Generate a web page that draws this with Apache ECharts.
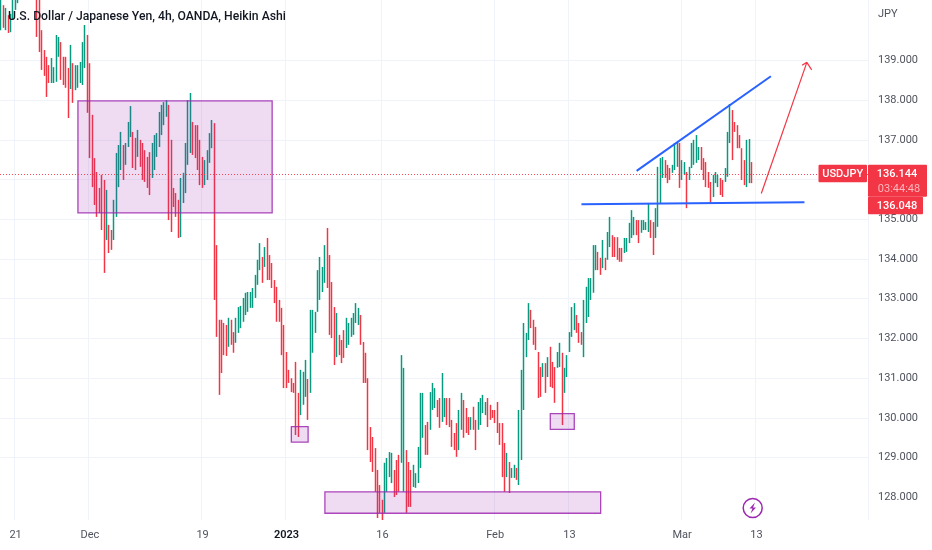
<!DOCTYPE html>
<html><head><meta charset="utf-8">
<style>html,body{margin:0;padding:0;background:#fff}#c{width:932px;height:550px}</style>
<script src="https://cdn.jsdelivr.net/npm/echarts@6/dist/echarts.min.js"></script>
</head><body><div id="c"></div>
<script>
const titleText = 'U.S. Dollar / Japanese Yen, 4h, OANDA, Heikin Ashi';
const yLabelTicks = [128,129,130,131,132,133,134,135,136,137,138,139];
const yGridTicks = [128,129,130,131,132,133,134,135,136,137,138,139,140];
const dateTicks = {6:'21',37:'Dec',84:'19',119:'2023',159:'16',206:'Feb',237:'13',284:'Mar',315:'13'};
const slotCount = 362;
const opens = [
139.86,140.34,139.86,140.09,139.81,140.12,140.37,140.54,141.15,141.45,
141.85,142.05,141.95,141.75,141.45,140.6,140.47,139.71,139.21,139.04,
138.83,138.53,138.53,138.56,139.19,139.41,139.04,139.04,138.76,138.38,
138.88,138.35,138.41,138.53,138.48,138.91,139.59,138.88,137.58,136.49,
136.14,135.74,136.07,135.94,134.58,134.81,134.68,134.58,135.16,135.91,
136.34,136.82,136.47,136.92,137.17,137.15,137.0,136.67,136.95,136.87,
136.69,136.52,136.64,136.14,136.34,136.67,136.92,137.22,137.47,137.68,
137.83,136.95,135.74,135.61,135.44,134.65,135.51,135.76,136.47,136.77,
137.4,137.32,137.32,136.95,136.52,135.96,136.09,136.52,136.89,137.37,
134.3,132.42,132.42,132.34,132.29,131.89,132.42,132.11,131.99,132.24,
132.36,132.52,132.69,132.77,132.87,132.87,133.12,133.45,133.82,134.0,
133.9,134.48,134.05,133.85,133.42,133.25,132.92,132.72,132.29,131.61,
131.16,130.95,130.83,131.36,130.58,130.17,130.43,130.63,130.93,130.73,
131.74,132.24,132.77,133.07,133.27,133.5,134.73,134.05,133.37,132.74,
131.63,132.04,131.91,132.16,131.86,131.94,132.14,132.19,132.49,132.44,
132.54,131.86,131.59,130.95,129.72,129.47,129.19,128.64,128.26,127.89,
127.71,128.24,128.61,128.46,128.64,128.89,129.02,128.97,128.24,129.14,
128.84,128.64,128.36,128.34,128.46,128.84,129.6,129.77,129.85,129.8,
130.3,130.35,130.4,130.45,130.0,130.12,130.45,130.45,129.9,129.57,
129.82,129.29,129.8,130.4,130.2,129.97,129.8,130.23,129.9,129.8,
129.92,130.22,130.17,130.45,130.28,130.15,130.15,130.35,129.82,129.82,
129.32,128.61,128.84,128.55,128.55,128.69,128.41,129.04,130.3,131.63,
132.06,132.67,132.42,132.24,131.61,131.23,131.13,131.33,131.13,131.74,
131.36,131.23,131.36,131.38,131.59,130.73,131.13,131.76,132.14,132.31,
132.54,132.34,132.11,131.63,132.49,132.64,133.07,133.25,133.82,134.13,
133.98,133.87,133.98,134.08,134.4,134.55,134.5,134.5,134.23,134.23,
134.25,134.28,134.5,134.63,134.7,134.93,134.93,134.76,134.78,134.78,
134.78,134.93,134.88,134.63,134.91,135.51,136.14,136.44,136.32,136.24,
136.22,136.34,136.42,136.87,136.09,136.2,136.14,136.09,136.39,136.47,
136.52,136.59,136.77,136.49,136.39,136.14,135.89,135.66,135.99,135.91,
135.99,135.94,136.04,136.17,137.02,137.7,137.4,137.32,137.07,136.74,
136.44,135.91,136.01,136.39];
const closes = [
140.6,139.92,140.27,139.79,140.12,140.6,140.6,140.85,140.7,140.9,
141.2,141.4,141.3,141.1,140.8,139.69,139.31,138.86,138.71,138.18,
138.53,139.01,138.78,139.59,139.54,138.61,138.48,138.41,137.65,139.34,
138.03,138.83,138.83,138.91,139.41,139.84,137.78,136.64,135.91,135.46,
135.16,135.26,134.83,133.75,135.69,134.25,134.33,135.44,136.62,136.82,
137.15,136.09,136.87,137.4,137.8,136.39,136.34,137.2,136.42,136.09,
136.04,135.89,135.71,136.87,137.07,137.12,137.65,137.83,137.9,137.95,
135.08,134.78,135.41,135.16,134.63,135.99,136.12,136.87,137.95,138.13,
136.72,136.64,136.34,135.96,135.89,136.44,136.69,137.12,137.45,133.07,
132.14,130.68,131.23,131.68,131.66,132.47,131.94,131.74,132.47,132.74,
132.77,132.97,133.1,133.12,133.12,133.22,133.55,133.93,134.35,133.5,
134.25,133.57,133.57,133.37,132.99,132.52,132.52,131.68,130.85,130.85,
130.98,130.75,130.73,129.67,129.62,131.16,131.11,131.41,130.05,132.67,
132.67,132.62,133.67,134.0,133.75,134.3,133.37,132.19,132.11,131.43,
132.59,131.68,131.48,131.61,132.47,132.34,132.47,132.59,132.84,132.72,
131.94,130.98,130.98,129.29,128.99,128.74,128.24,127.58,127.71,127.53,
128.82,128.94,129.09,129.07,128.11,128.16,128.24,131.53,131.21,127.71,
127.86,127.86,128.77,128.56,129.22,130.58,130.58,129.17,129.17,130.6,
130.83,130.7,130.12,129.85,131.08,130.45,129.92,129.87,129.37,129.29,
129.12,130.15,130.58,129.6,129.72,129.67,129.97,129.8,129.29,130.35,
130.45,130.53,130.35,129.87,130.05,130.08,129.97,129.72,129.42,128.61,
128.24,129.07,128.21,128.69,128.77,128.52,130.15,131.16,132.34,132.09,
132.84,132.36,131.94,131.81,130.6,130.63,131.33,130.73,131.48,130.88,
130.85,130.48,131.61,131.84,129.92,131.21,131.53,132.11,132.74,132.84,
132.24,131.99,131.94,132.92,133.25,133.47,133.47,134.3,134.3,133.82,
133.7,134.43,133.82,134.63,135.01,134.15,134.15,134.08,134.03,134.03,
134.48,134.48,134.86,135.18,135.01,134.7,134.5,134.93,134.93,134.88,
135.36,134.63,134.2,135.23,136.27,136.49,136.52,136.14,136.01,136.09,
136.32,136.87,136.9,135.89,136.44,136.39,135.38,136.27,136.87,136.95,
137.07,136.77,136.34,136.09,135.91,135.89,135.51,136.07,136.14,136.07,
135.71,135.66,136.24,137.15,137.85,136.59,137.25,136.89,136.89,136.09,
135.96,136.95,136.97,136.01];
const lows = [
139.76,139.82,139.76,139.69,139.71,140.02,140.27,140.44,140.6,140.8,
141.1,141.3,141.2,141.0,140.7,139.59,139.21,138.76,138.61,138.08,
138.43,138.43,138.43,138.46,139.09,138.51,138.38,138.31,137.55,138.28,
137.93,138.25,138.31,138.43,138.38,138.81,137.68,136.54,135.81,135.36,
135.06,135.16,134.73,133.65,134.48,134.15,134.23,134.48,135.06,135.81,
136.24,135.99,136.37,136.82,137.07,136.29,136.24,136.57,136.32,135.99,
135.94,135.79,135.61,136.04,136.24,136.57,136.82,137.12,137.37,137.58,
134.98,134.68,135.31,135.06,134.53,134.55,135.41,135.66,136.37,136.67,
136.62,136.54,136.24,135.86,135.79,135.86,135.99,136.42,136.79,132.97,
132.04,130.58,131.13,131.58,131.56,131.79,131.84,131.64,131.89,132.14,
132.26,132.42,132.59,132.67,132.77,132.77,133.02,133.35,133.72,133.4,
133.8,133.47,133.47,133.27,132.89,132.42,132.42,131.58,130.75,130.75,
130.88,130.65,130.63,129.57,129.52,130.07,130.33,130.53,129.95,130.63,
131.64,132.14,132.67,132.97,133.17,133.4,133.27,132.09,132.01,131.33,
131.53,131.58,131.38,131.51,131.76,131.84,132.04,132.09,132.39,132.34,
131.84,130.88,130.88,129.19,128.89,128.64,128.14,127.48,127.61,127.43,
127.61,128.14,128.51,128.36,128.01,128.06,128.14,128.87,128.14,127.61,
127.76,127.76,128.26,128.24,128.36,128.74,129.5,129.07,129.07,129.7,
130.2,130.25,130.02,129.75,129.9,130.02,129.82,129.77,129.27,129.19,
129.02,129.19,129.7,129.5,129.62,129.57,129.7,129.7,129.19,129.7,
129.82,130.12,130.07,129.77,129.95,130.0,129.87,129.62,129.32,128.51,
128.14,128.51,128.11,128.49,128.49,128.44,128.31,128.94,130.2,131.53,
131.96,132.26,131.84,131.71,130.5,130.53,131.03,130.63,131.03,130.78,
130.75,130.38,131.26,131.28,129.82,130.63,131.03,131.66,132.04,132.21,
132.14,131.89,131.84,131.53,132.39,132.54,132.97,133.15,133.72,133.72,
133.6,133.77,133.72,133.98,134.3,134.05,134.05,133.98,133.93,133.93,
134.15,134.18,134.4,134.53,134.6,134.6,134.4,134.66,134.73,134.73,
134.68,134.53,134.1,134.53,134.81,135.41,136.04,136.04,135.91,135.99,
136.17,136.24,136.32,135.79,135.99,136.12,135.28,135.99,136.29,136.37,
136.42,136.49,136.24,135.99,135.81,135.79,135.41,135.56,135.91,135.81,
135.61,135.56,135.94,136.07,136.92,136.49,137.2,136.79,136.79,135.99,
135.86,135.81,135.91,135.91];
const highs = [
140.65,140.39,140.32,140.14,140.17,140.65,140.65,140.9,141.2,141.5,
141.9,142.1,142.0,141.8,141.5,140.65,140.52,139.76,139.26,139.09,
138.88,139.06,138.83,139.64,139.59,139.46,139.09,139.09,138.81,139.39,
138.93,138.88,138.88,138.96,139.46,139.89,139.64,138.93,137.63,136.54,
136.19,135.79,136.12,135.99,135.74,134.86,134.73,135.49,136.67,136.87,
137.2,136.87,136.92,137.45,137.85,137.2,137.05,137.25,137.0,136.92,
136.74,136.57,136.69,136.92,137.12,137.17,137.7,137.88,137.95,138.0,
137.88,137.0,135.79,135.66,135.49,136.04,136.17,136.92,138.0,138.18,
137.45,137.37,137.37,137.0,136.57,136.49,136.74,137.17,137.5,137.42,
134.35,132.47,132.47,132.39,132.34,132.52,132.47,132.16,132.52,132.79,
132.82,133.02,133.15,133.17,133.17,133.27,133.6,133.98,134.4,134.05,
134.3,134.53,134.1,133.9,133.47,133.3,132.97,132.77,132.34,131.66,
131.21,131.0,130.88,131.41,130.63,131.21,131.16,131.46,130.98,132.72,
132.72,132.67,133.72,134.05,133.8,134.35,134.78,134.1,133.42,132.79,
132.64,132.09,131.96,132.21,132.52,132.39,132.52,132.64,132.89,132.77,
132.59,131.91,131.64,131.0,129.77,129.52,129.24,128.69,128.31,127.94,
128.87,128.99,129.14,129.12,128.69,128.94,129.07,131.58,131.26,129.19,
128.89,128.69,128.82,128.61,129.27,130.63,130.63,129.82,129.9,130.65,
130.88,130.75,130.45,130.5,131.13,130.5,130.5,130.5,129.95,129.62,
129.87,130.2,130.63,130.45,130.25,130.02,130.02,130.28,129.95,130.4,
130.5,130.58,130.4,130.5,130.33,130.2,130.2,130.4,129.87,129.87,
129.37,129.12,128.89,128.74,128.82,128.74,130.2,131.21,132.39,132.14,
132.89,132.72,132.47,132.29,131.66,131.28,131.38,131.38,131.53,131.79,
131.41,131.28,131.66,131.89,131.64,131.26,131.58,132.16,132.79,132.89,
132.59,132.39,132.16,132.97,133.3,133.52,133.52,134.35,134.35,134.18,
134.03,134.48,134.03,134.68,135.06,134.6,134.55,134.55,134.28,134.28,
134.53,134.53,134.91,135.23,135.06,134.98,134.98,134.98,134.98,134.93,
135.41,134.98,134.93,135.28,136.32,136.54,136.57,136.49,136.37,136.29,
136.37,136.92,136.95,136.92,136.49,136.44,136.19,136.32,136.92,137.0,
137.12,136.82,136.82,136.54,136.44,136.19,135.94,136.12,136.19,136.12,
136.04,135.99,136.29,137.2,137.9,137.75,137.45,137.37,137.12,136.79,
136.49,137.0,137.02,136.44];
// annotations in [slot, price]
const zones = [
 [[32.15,137.98],[112.8,135.16]],
 [[120.7,129.78],[128.1,129.39]],
 [[135.3,128.14],[249.7,127.6]],
 [[228.9,130.11],[238.9,129.71]]
];
const blueLines = [
 [[242.1,135.38],[334.5,135.43]],
 [[264.7,136.22],[320.6,138.6]]
];
const redArrow = [
 [[316.7,135.65],[336.2,138.95]],
 [[333.8,138.88],[336.2,138.95]],
 [[337.6,138.76],[336.2,138.95]]
];
const lastPrice = 136.144;
const bidPrice = 136.048;
const countdown = '03:44:48';
const symbolName = 'USDJPY';
const currency = 'JPY';

const FONT = 'Roboto, "Liberation Sans", sans-serif';
const UP = '#089981', DOWN = '#f23645', GRID = '#f0f3fa', TXT = '#50535e', PURPLE = '#9c27b0';
const categories = Array.from({length: slotCount}, (_, i) => String(i));
const candles = opens.map((o, i) => [o, closes[i], lows[i], highs[i]]);
const toCoordPair = seg => [{coord: seg[0]}, {coord: seg[1]}];

const chart = echarts.init(document.getElementById('c'), null, {renderer: 'canvas'});
chart.setOption({
  animation: false,
  backgroundColor: '#fff',
  title: {text: titleText, left: 8, top: 11, padding: 0, z: 10,
    textStyle: {fontFamily: FONT, fontSize: 12.2, fontWeight: 500, color: '#131722'}},
  grid: {left: 0, right: 64, top: 0, bottom: 30, containLabel: false},
  xAxis: {type: 'category', data: categories, boundaryGap: true,
    axisLine: {show: false}, axisTick: {show: false},
    axisLabel: {margin: 10, fontFamily: FONT, fontSize: 11, color: TXT, hideOverlap: false,
      interval: i => dateTicks[i] !== undefined,
      formatter: (v, i) => dateTicks[i] === '2023' ? '{b|2023}' : (dateTicks[i] || ''),
      rich: {b: {fontFamily: FONT, fontSize: 11, fontWeight: 600, color: '#131722'}}},
    splitLine: {show: true, interval: i => dateTicks[i] !== undefined,
      lineStyle: {color: GRID, width: 1}}},
  yAxis: {type: 'value', position: 'right', min: 127.43, max: 140.52, scale: true,
    axisLine: {show: false},
    axisTick: {show: false, customValues: yGridTicks},
    axisLabel: {margin: 10, fontFamily: FONT, fontSize: 11, color: TXT,
      customValues: yLabelTicks, formatter: v => v.toFixed(3)},
    splitLine: {show: true, showMinLine: false, showMaxLine: false, lineStyle: {color: GRID, width: 1}}},
  series: [
    {type: 'candlestick', data: candles, barWidth: 0.5, clip: true, z: 2,
      itemStyle: {color: UP, color0: DOWN, borderColor: UP, borderColor0: DOWN, borderWidth: 1.5}},
    {type: 'line', data: [], z: 4, silent: true,
      markArea: {silent: true, z: 4,
        itemStyle: {color: 'rgba(156,39,176,0.16)', borderColor: 'rgba(156,39,176,0.85)', borderWidth: 1.3, opacity: 1},
        data: zones.map(toCoordPair)}},
    {type: 'line', data: [], z: 5, silent: true,
      markLine: {silent: true, symbol: 'none', animation: false, label: {show: false},
        lineStyle: {color: '#2962ff', width: 2, type: 'solid'},
        data: blueLines.map(toCoordPair)}},
    {type: 'line', data: [], z: 5, silent: true,
      markLine: {silent: true, symbol: 'none', animation: false, label: {show: false},
        lineStyle: {color: DOWN, width: 1.2, type: 'solid'},
        data: redArrow.map(toCoordPair)}},
    {type: 'line', data: [], z: 3, silent: true,
      markLine: {silent: true, symbol: 'none', animation: false, label: {show: false},
        lineStyle: {color: DOWN, width: 1, type: [1, 2], opacity: 0.9},
        data: [{yAxis: lastPrice}]}}
  ]
});

const py = chart.convertToPixel({yAxisIndex: 0}, lastPrice);
const tagFont = '500 11px ' + FONT;
chart.setOption({graphic: [
  {type: 'text', left: 878, top: 9, z: 20, style: {text: currency, font: '11px ' + FONT, fill: TXT}},
  {type: 'rect', z: 20, shape: {x: 818.5, y: py - 9, width: 48.5, height: 17.5, r: 1}, style: {fill: DOWN}},
  {type: 'text', z: 21, style: {text: symbolName, x: 842.7, y: py, align: 'center', verticalAlign: 'middle', font: tagFont, fill: '#fff'}},
  {type: 'rect', z: 20, shape: {x: 868, y: py - 9, width: 59, height: 32, r: 1}, style: {fill: DOWN}},
  {type: 'rect', z: 20, shape: {x: 868, y: py + 23, width: 55, height: 17.5, r: 1}, style: {fill: DOWN}},
  {type: 'text', z: 21, style: {text: lastPrice.toFixed(3), x: 897, y: py, align: 'center', verticalAlign: 'middle', font: tagFont, fill: '#fff'}},
  {type: 'text', z: 21, style: {text: countdown, x: 899, y: py + 15, align: 'center', verticalAlign: 'middle', font: '11px ' + FONT, fill: '#fbb6bc'}},
  {type: 'text', z: 21, style: {text: bidPrice.toFixed(3), x: 897, y: py + 32, align: 'center', verticalAlign: 'middle', font: tagFont, fill: '#fff'}},
  {type: 'circle', z: 20, shape: {cx: 752.7, cy: 508, r: 9.5}, style: {fill: '#fff', stroke: PURPLE, lineWidth: 1.5}},
  {type: 'polygon', z: 21, shape: {points: [[755,502.5],[749.5,508.5],[752.5,508.5],[750.5,513.5],[756,507.5],[753,507.5]]}, style: {fill: PURPLE}}
]});
</script></body></html>
